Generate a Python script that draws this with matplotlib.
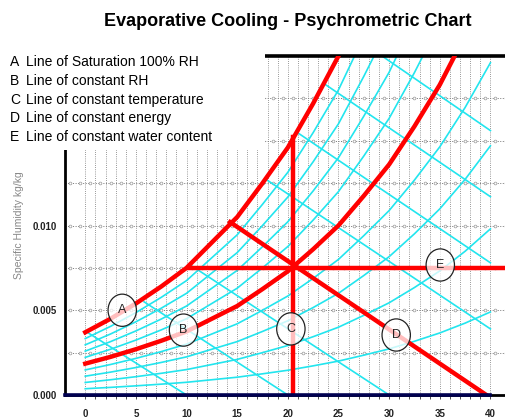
import matplotlib
matplotlib.use("Agg")
import matplotlib.pyplot as plt
from matplotlib.patches import Ellipse, Rectangle
import numpy as np

plt.rcParams['font.family'] = ['Liberation Sans', 'DejaVu Sans']

temps = [0, 2.5, 5, 7.5, 10, 12.5, 15, 17.5, 20, 22.5, 25, 27.5, 30, 32.5, 35, 37.5, 40]
sat = [0.0037, 0.0045, 0.0054, 0.0064, 0.0075, 0.0090, 0.0105, 0.0125, 0.0146,
       0.0172, 0.0200, 0.0235, 0.0272, 0.0317, 0.0366, 0.0424, 0.0490]
rh_cyan = [0.1, 0.2, 0.3, 0.4, 0.6, 0.7, 0.8, 0.9]
rh_red = 0.5

# constant energy lines (cyan): start T, start w, end T, end w
energy_lines = [
    (0.2, 0.0037, 10.0, 0.0),
    (5.8, 0.0055, 20.0, 0.0),
    (10.3, 0.0077, 30.0, 0.0),
    (17.9, 0.0127, 40.0, 0.0039),
    (20.9, 0.0155, 40.0, 0.0078),
    (23.5, 0.0184, 40.0, 0.0117),
    (29.3, 0.0200, 40.0, 0.0156),
]

# red process lines
line_c = ([20.5, 20.5], [0.0, 0.0152])
line_d = ([14.3, 39.6], [0.0102, 0.0])
line_e = ([10.2, 43.0], [0.0075, 0.0075])

labels = ['A', 'B', 'C', 'D', 'E']
label_t = [3.65, 9.7, 20.3, 30.7, 35.05]
label_w = [0.0050, 0.00383, 0.0039, 0.00354, 0.00767]

legend_items = [
    ('A', 'Line of Saturation 100% RH'),
    ('B', 'Line of constant RH'),
    ('C', 'Line of constant temperature'),
    ('D', 'Line of constant energy'),
    ('E', 'Line of constant water content'),
]

fig = plt.figure(figsize=(5.06, 4.2), dpi=100)
ax = fig.add_axes([65 / 506, 25 / 420, 455.8 / 506, 339 / 420])
ax.set_xlim(-2, 43)
ax.set_ylim(0, 0.02)

# dotted grid
for t in range(0, 41):
    ax.plot([t, t], [0, 0.02], color='#777777', lw=0.6, ls=(0, (1, 1.6)), zorder=1)
half = np.arange(-1.5, 43, 1.0)
for w in [0.0025, 0.005, 0.0075, 0.01, 0.0125, 0.015, 0.0175]:
    ax.plot([-2, 43], [w, w], color='#777777', lw=0.7, ls=(0, (1, 1.6)), zorder=1)
    ax.plot(half, [w] * len(half), ls='none', marker='o', ms=2.0,
            mfc='white', mec='#999999', mew=0.5, zorder=1)

cyan = '#22E5EE'
for rh in rh_cyan:
    ax.plot(temps, [rh * s for s in sat], color=cyan, lw=1.2, zorder=2)
for t0, w0, t1, w1 in energy_lines:
    ax.plot([t0, t1], [w0, w1], color=cyan, lw=1.2, zorder=2)

red = '#FF0000'
ax.plot(temps, sat, color=red, lw=3.2, zorder=3)
ax.plot(temps, [rh_red * s for s in sat], color=red, lw=3.2, zorder=3)
for xs, ys in [line_c, line_d, line_e]:
    ax.plot(xs, ys, color=red, lw=3.2, zorder=3)

# zero humidity line
ax.plot([-2, 40], [0, 0], color='#000050', lw=2.6, zorder=4, clip_on=False)

for lab, t, w in zip(labels, label_t, label_w):
    ax.add_patch(Ellipse((t, w), 2.8, 0.0019, facecolor='white', alpha=0.75,
                         edgecolor='none', zorder=5))
    ax.add_patch(Ellipse((t, w), 2.8, 0.0019, facecolor='none',
                         edgecolor='#222222', lw=0.9, zorder=6))
    ax.text(t, w, lab, ha='center', va='center', fontsize=9, color='#222222', zorder=7)

ax.spines['right'].set_visible(False)
ax.spines['left'].set_linewidth(2)
ax.spines['bottom'].set_linewidth(2)
ax.spines['top'].set_linewidth(2.6)

ax.set_xticks(range(0, 41, 5))
ax.set_xticks(range(0, 41), minor=True)
ax.tick_params(axis='x', which='both', length=3, width=0.6, color='#333333', pad=7)
ax.set_xticklabels([str(t) for t in range(0, 41, 5)], fontsize=7,
                   fontweight='bold', color='#222222')
ax.set_yticks([0, 0.005, 0.01])
ax.set_yticklabels(['0.000', '0.005', '0.010'], fontsize=7,
                   fontweight='bold', color='#222222')
ax.tick_params(axis='y', length=0, pad=6)
ax.set_ylabel('Specific Humidity kg/kg', fontsize=7.5, color='#888888', labelpad=6)

# white panel behind the legend text
fig.patches.append(Rectangle((0, 1 - 150 / 420), 265 / 506, 105 / 420,
                             transform=fig.transFigure, facecolor='white',
                             edgecolor='none', zorder=10))

fig.text(288 / 506, 1 - 22 / 420, 'Evaporative Cooling - Psychrometric Chart',
         ha='center', va='center', fontsize=13, fontweight='bold', zorder=11)
for i, (letter, desc) in enumerate(legend_items):
    y = 1 - (62 + i * 18.8) / 420
    fig.text(10 / 506, y, letter, ha='left', va='center', fontsize=10, zorder=11)
    fig.text(26 / 506, y, desc, ha='left', va='center', fontsize=10, zorder=11)

fig.savefig('out.png', dpi=100)
